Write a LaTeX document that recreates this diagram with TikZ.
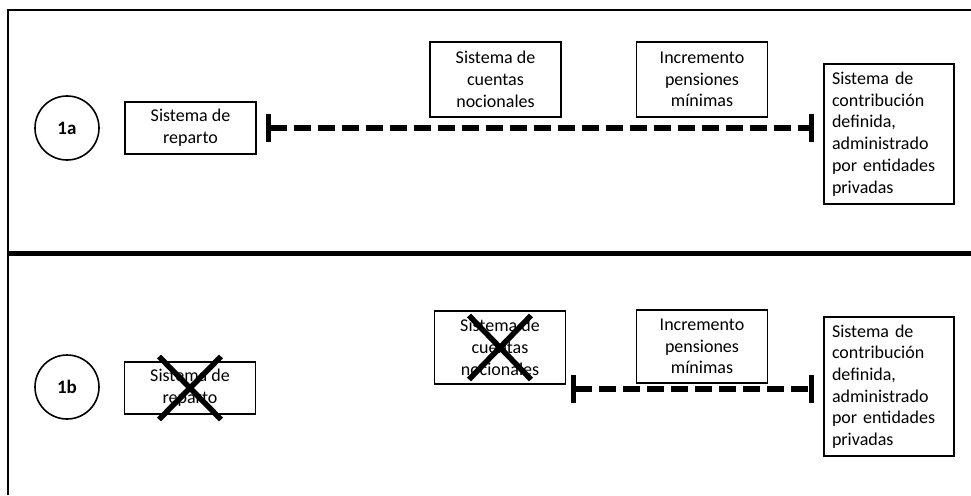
\documentclass[tikz,border=0pt]{standalone}
\usepackage{fontspec}
\setmainfont{Carlito}
\usetikzlibrary{arrows.meta}
\begin{document}
\begin{tikzpicture}[x=1pt,y=-1pt,
  box/.style={draw,line width=1.6pt,rectangle,inner sep=0pt,align=center,
    font=\fontsize{18}{21.7}\selectfont},
  midbox/.style={box,minimum width=131pt,minimum height=75pt},
  leftbox/.style={box,minimum width=131pt,minimum height=52pt},
  rightbox/.style={box,align=left,text width=114pt,inner xsep=8pt,inner ysep=0pt,minimum height=140pt},
  stage/.style={draw,circle,line width=1.6pt,minimum size=64pt,inner sep=0pt,
    font=\fontsize{19}{22}\selectfont\bfseries},
  span/.style={line width=6pt,dash pattern=on 17pt off 7pt,
    {Bar[width=28pt,line width=5pt]}-{Bar[width=28pt,line width=5pt]}},
  cross/.style={line width=5.5pt},
  frame/.style={line width=2pt}]
\useasboundingbox (0,0) rectangle (971,495);
% frame
\draw[frame] (8,495) -- (8,10) -- (971,10);
\draw[line width=5pt] (8,253) -- (971,253);
% --- 1a
\node[stage] (c1a) at (67,128) {1a};
\node[leftbox] (r1a) at (190.5,128) {Sistema de\\reparto};
\node[midbox] (n1a) at (495.5,79.5) {Sistema de\\cuentas\\nocionales};
\node[midbox] (i1a) at (702,79.5) {Incremento\\pensiones\\mínimas};
\node[rightbox] (d1a) at (889,134) {Sistema de\\contribución\\definida,\\administrado\\por entidades\\privadas};
\draw[span,shorten <=9pt,shorten >=9pt] (r1a.east) -- (r1a.east -| d1a.west);
% --- 1b
\node[stage] (c1b) at (67,387) {1b};
\node[leftbox] (r1b) at (190,388) {Sistema de\\reparto};
\node[midbox,minimum height=73pt] (n1b) at (500,347.5) {Sistema de\\cuentas\\nocionales};
\node[midbox,minimum height=73pt] (i1b) at (702,346.5) {Incremento\\pensiones\\mínimas};
\node[rightbox,minimum height=139pt] (d1b) at (889,386.5) {Sistema de\\contribución\\definida,\\administrado\\por entidades\\privadas};
\coordinate (s2) at (571,389);
\draw[span,shorten >=9pt] (s2) -- (s2 -| d1b.west);
% crosses
\draw[cross] ([shift={(-31,-31.5)}]r1b.center) -- ([shift={(31,31.5)}]r1b.center);
\draw[cross] ([shift={(31,-31.5)}]r1b.center) -- ([shift={(-31,31.5)}]r1b.center);
\draw[cross] ([shift={(-31,-32)}]n1b.center) -- ([shift={(31,32)}]n1b.center);
\draw[cross] ([shift={(31,-32)}]n1b.center) -- ([shift={(-31,32)}]n1b.center);
\end{tikzpicture}
\end{document}
